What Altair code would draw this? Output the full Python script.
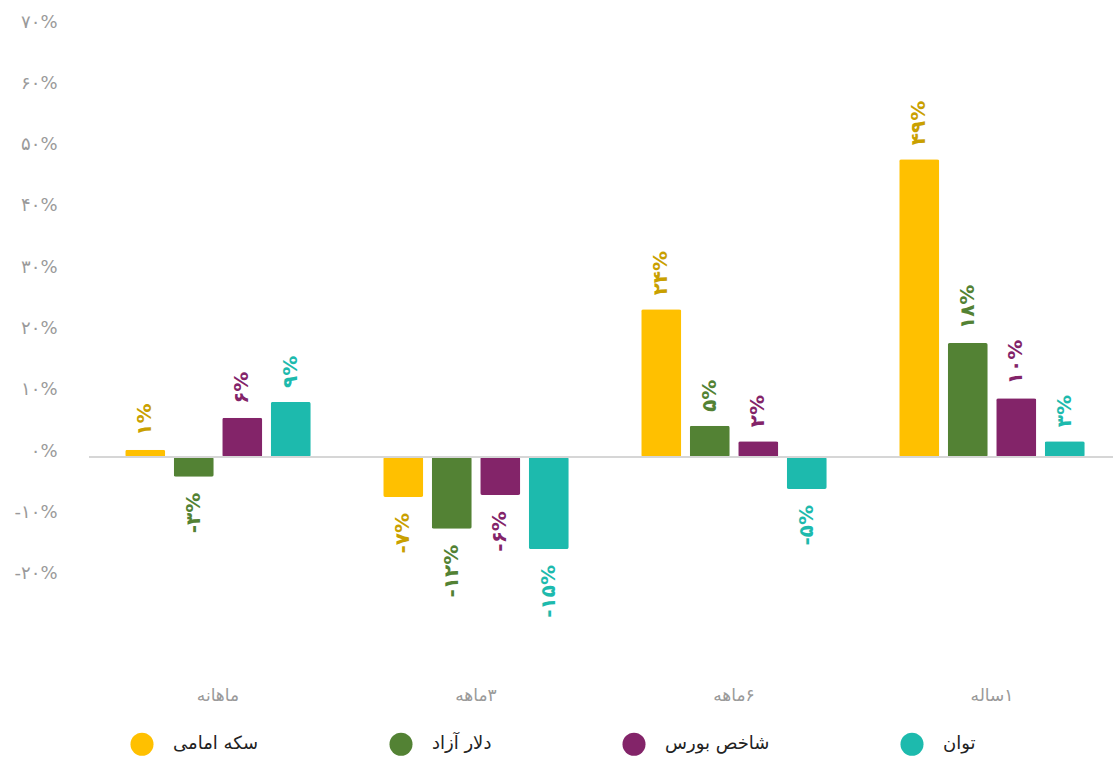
import altair as alt
import pandas as pd

RLM = "\u200f"
groups = ["ماهانه", RLM + "۳ماهه", RLM + "۶ماهه", RLM + "۱ساله"]
series = ["سکه امامی", "دلار آزاد", "شاخص بورس", "توان"]

coin = [1.2, -6.5, 24.1, 48.6]
dollar = [-3.2, -11.7, 5.1, 18.6]
bourse = [6.4, -6.2, 2.6, 9.6]
tavan = [9.0, -15.0, -5.2, 2.6]

coin_lbl = ["۱%", "-۷%", "۲۴%", "۴۹%"]
dollar_lbl = ["-۳%", "-۱۲%", "۵%", "۱۸%"]
bourse_lbl = ["۶%", "-۶%", "۲%", "۱۰%"]
tavan_lbl = ["۹%", "-۱۵%", "-۵%", "۳%"]

bar_colors = ["#FFC000", "#538234", "#832469", "#1DBAAD"]
text_colors = ["#C9A000", "#538234", "#832469", "#1DBAAD"]

y_ticks = [-20, -10, 0, 10, 20, 30, 40, 50, 60, 70]
y_tick_labels = ["-۲۰%", "-۱۰%", "۰%", "۱۰%", "۲۰%", "۳۰%", "۴۰%", "۵۰%", "۶۰%", "۷۰%"]

rows = []
for s, vals, lbls in zip(series, [coin, dollar, bourse, tavan],
                         [coin_lbl, dollar_lbl, bourse_lbl, tavan_lbl]):
    for g, v, l in zip(groups, vals, lbls):
        rows.append({"group": g, "series": s, "value": v, "label": l})
df = pd.DataFrame(rows)

FONT = "DejaVu Sans"

label_expr = "[" + ",".join("'" + t + "'" for t in y_tick_labels) + "][(datum.value + 20) / 10]"

x_scale = alt.Scale(paddingInner=0.248, paddingOuter=0.1085, align=0.571)
x_enc = alt.X("group:N", sort=groups, title=None, scale=x_scale,
              axis=alt.Axis(domain=False, ticks=False, labelAngle=0, labelFontSize=17,
                            labelColor="#9a9a9a", labelPadding=46, labelFont=FONT))
xoff = alt.XOffset("series:N", sort=series,
                   scale=alt.Scale(paddingInner=0.175, paddingOuter=0.0875))
y_enc = alt.Y("value:Q", title=None,
              scale=alt.Scale(domain=[-30, 70], nice=False, zero=True),
              axis=alt.Axis(values=y_ticks, labelExpr=label_expr, domain=False, ticks=False,
                            grid=False, labelFontSize=18, labelColor="#9a9a9a",
                            labelPadding=32, labelOffset=-6, labelFont=FONT))

bars = alt.Chart(df).mark_bar(cornerRadius=2).encode(
    x=x_enc, xOffset=xoff, y=y_enc,
    color=alt.Color("series:N", sort=series, title=None,
                    scale=alt.Scale(domain=series, range=bar_colors),
                    legend=alt.Legend(orient="none", legendX=41, legendY=704,
                                      direction="horizontal", symbolType="circle",
                                      symbolSize=530, symbolStrokeWidth=0, symbolOpacity=1,
                                      labelFontSize=18, labelColor="#222222", labelFont=FONT,
                                      labelOffset=19, columnPadding=130, gridAlign="each",
                                      labelLimit=300)),
)

zero = alt.Chart(df).mark_rule(color="#d6d6d6", strokeWidth=2).encode(y=alt.datum(0))

text_color = alt.Color("series:N", sort=series, legend=None,
                       scale=alt.Scale(domain=series, range=text_colors))

pos_text = alt.Chart(df).transform_filter("datum.value >= 0").mark_text(
    angle=270, align="left", baseline="middle", dx=14, fontSize=20, fontWeight="bold", font=FONT
).encode(x=alt.X("group:N", sort=groups, scale=x_scale), xOffset=xoff, y=alt.Y("value:Q"),
         text="label:N", color=text_color)

neg_text = alt.Chart(df).transform_filter("datum.value < 0").mark_text(
    angle=270, align="right", baseline="middle", dx=-16, fontSize=20, fontWeight="bold", font=FONT
).encode(x=alt.X("group:N", sort=groups, scale=x_scale), xOffset=xoff, y=alt.Y("value:Q"),
         text="label:N", color=text_color)

chart = alt.layer(bars, zero, pos_text, neg_text).resolve_scale(color="independent").properties(
    width=1024, height=613,
    autosize=alt.AutoSizeParams(type="none"),
    padding={"left": 89, "top": 28, "right": 0, "bottom": 117},
).configure(font=FONT).configure_view(stroke=None, strokeWidth=0)

chart.save("out.html", embed_options={"renderer": "svg", "actions": False})
